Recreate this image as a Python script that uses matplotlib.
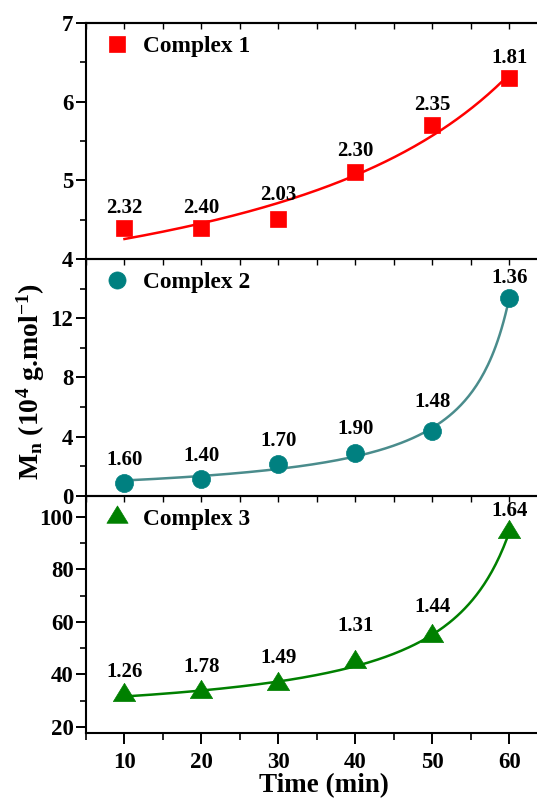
import numpy as np
import matplotlib
matplotlib.use('Agg')
import matplotlib.pyplot as plt
from matplotlib.ticker import MultipleLocator, FixedLocator
from matplotlib.path import Path

# ---------------- data ----------------
time = [10, 20, 30, 40, 50, 60]
mn_c1 = [4.39, 4.40, 4.51, 5.10, 5.70, 6.30]
mn_c2 = [0.88, 1.15, 2.16, 2.90, 4.40, 13.40]
mn_c3 = [32.0, 33.3, 36.5, 44.8, 54.5, 94.3]
pdi_c1 = ["2.32", "2.40", "2.03", "2.30", "2.35", "1.81"]
pdi_c2 = ["1.60", "1.40", "1.70", "1.90", "1.48", "1.36"]
pdi_c3 = ["1.26", "1.78", "1.49", "1.31", "1.44", "1.64"]
series_names = ["Complex 1", "Complex 2", "Complex 3"]
yticks_c1 = [4, 5, 6, 7]
yticks_c2 = [0, 4, 8, 12]
yticks_c3 = [20, 40, 60, 80, 100]
xticks = [10, 20, 30, 40, 50, 60]

# label gaps (px above point) – layout only
gap1 = [15, 15, 19, 16, 15, 15]
gap2 = [18, 18, 18, 19, 24, 15]
gap3 = [18, 20, 21, 31, 24, 16]

plt.rcParams['font.family'] = ['Liberation Serif', 'DejaVu Serif']
plt.rcParams['font.weight'] = 'bold'
plt.rcParams['mathtext.fontset'] = 'custom'
plt.rcParams['mathtext.rm'] = 'Liberation Serif:bold'
plt.rcParams['mathtext.it'] = 'Liberation Serif:bold'
plt.rcParams['mathtext.bf'] = 'Liberation Serif:bold'

# triangle centred on its centroid (as in Origin)
tri = Path([(0, 1.0), (-0.917, -0.5), (0.917, -0.5), (0, 1.0)],
           [Path.MOVETO, Path.LINETO, Path.LINETO, Path.CLOSEPOLY])


def growth_fit(x, y):
    """least-squares fit y = y0 + A / (c - x), grid search over c"""
    x = np.asarray(x, float)
    y = np.asarray(y, float)
    best = None
    for c in np.linspace(60.5, 600, 8000):
        B = np.column_stack([np.ones_like(x), 1.0 / (c - x)])
        coef, *_ = np.linalg.lstsq(B, y, rcond=None)
        r = np.sum((B @ coef - y) ** 2)
        if best is None or r < best[0]:
            best = (r, c, coef)
    _, c, coef = best
    xs = np.linspace(x.min(), x.max(), 200)
    return xs, coef[0] + coef[1] / (c - xs)


W, H = 537, 798
fig = plt.figure(figsize=(W / 100, H / 100), dpi=100)

left = 86 / W
width = 1.0 - left
bounds = [23, 259, 496, 733]

panels = [
    dict(y=mn_c1, pdi=pdi_c1, gaps=gap1, name=series_names[0], marker='s', ms=12,
         mc='#FF0000', lc='#FF0000', ylim=(4, 7), ticks=yticks_c1, minor=0.5),
    dict(y=mn_c2, pdi=pdi_c2, gaps=gap2, name=series_names[1], marker='o', ms=13,
         mc='#008080', lc='#4A8C8C', ylim=(0, 16), ticks=yticks_c2, minor=2),
    dict(y=mn_c3, pdi=pdi_c3, gaps=gap3, name=series_names[2], marker=tri, ms=17.5,
         mc='#008000', lc='#008000', ylim=(17.7, 108), ticks=yticks_c3, minor=10),
]

axes = []
for i, p in enumerate(panels):
    top_px, bot_px = bounds[i], bounds[i + 1]
    ax = fig.add_axes([left, 1 - bot_px / H, width, (bot_px - top_px) / H])
    axes.append(ax)
    xs, ys = growth_fit(time, p['y'])
    ax.plot(xs, ys, color=p['lc'], lw=1.8, zorder=2)
    ax.plot(time, p['y'], linestyle='none', marker=p['marker'], ms=p['ms'],
            color=p['mc'], mec=p['mc'], mew=0.5, zorder=3, label=p['name'])
    for xv, yv, s, g in zip(time, p['y'], p['pdi'], p['gaps']):
        ax.annotate(s, (xv, yv), xytext=(0, g * 0.72), textcoords='offset points',
                    ha='center', va='baseline', fontsize=15, fontweight='bold')
    ax.set_xlim(5, 63.6)
    ax.set_ylim(*p['ylim'])
    ax.yaxis.set_major_locator(FixedLocator(p['ticks']))
    ax.yaxis.set_minor_locator(MultipleLocator(p['minor']))
    ax.xaxis.set_major_locator(FixedLocator(xticks))
    ax.xaxis.set_minor_locator(MultipleLocator(5))
    ax.spines['right'].set_visible(False)
    for s in ['left', 'top', 'bottom']:
        ax.spines[s].set_linewidth(1.5)
    ax.tick_params(axis='y', which='major', direction='out', length=7, width=1.4,
                   labelsize=16.5, pad=2)
    ax.tick_params(axis='y', which='minor', direction='out', length=4, width=1.2)
    if i < 2:
        ax.tick_params(axis='x', which='both', direction='out', length=4, width=1.0,
                       labelbottom=False)
    else:
        ax.tick_params(axis='x', which='major', direction='out', length=8, width=1.4,
                       labelsize=16.5, pad=6)
        ax.tick_params(axis='x', which='minor', direction='out', length=5, width=1.2)
        ax.set_xlabel('Time (min)', fontsize=19.5, fontweight='bold', labelpad=0)
        ax.xaxis.label.set_x((324 - 86) / 451)
    for lab in ax.get_yticklabels() + ax.get_xticklabels():
        lab.set_fontweight('bold')
    leg = ax.legend(loc='center left', bbox_to_anchor=(-0.006, 0.9), frameon=False,
                    fontsize=16.8, handlelength=1.1, handletextpad=0.55,
                    borderaxespad=0.5, markerscale=0.95)
    for t in leg.get_texts():
        t.set_fontweight('bold')

# small inward ticks on the top spine of the upper panel
sec = axes[0].secondary_xaxis('top')
sec.xaxis.set_major_locator(MultipleLocator(5))
sec.tick_params(axis='x', which='both', direction='in', length=4, width=1.0,
                labeltop=False)
sec.spines['top'].set_linewidth(1.5)

fig.text(31 / W, 1 - 382 / H, r'M$_n$ (10$^4$ g.mol$^{-1}$)', rotation=90,
         ha='center', va='center', fontsize=20, fontweight='bold')

axes[0].set_zorder(3)
axes[1].set_zorder(2)
axes[2].set_zorder(1)
for ax in axes:
    ax.patch.set_alpha(0)

fig.savefig('out.png', dpi=100)
